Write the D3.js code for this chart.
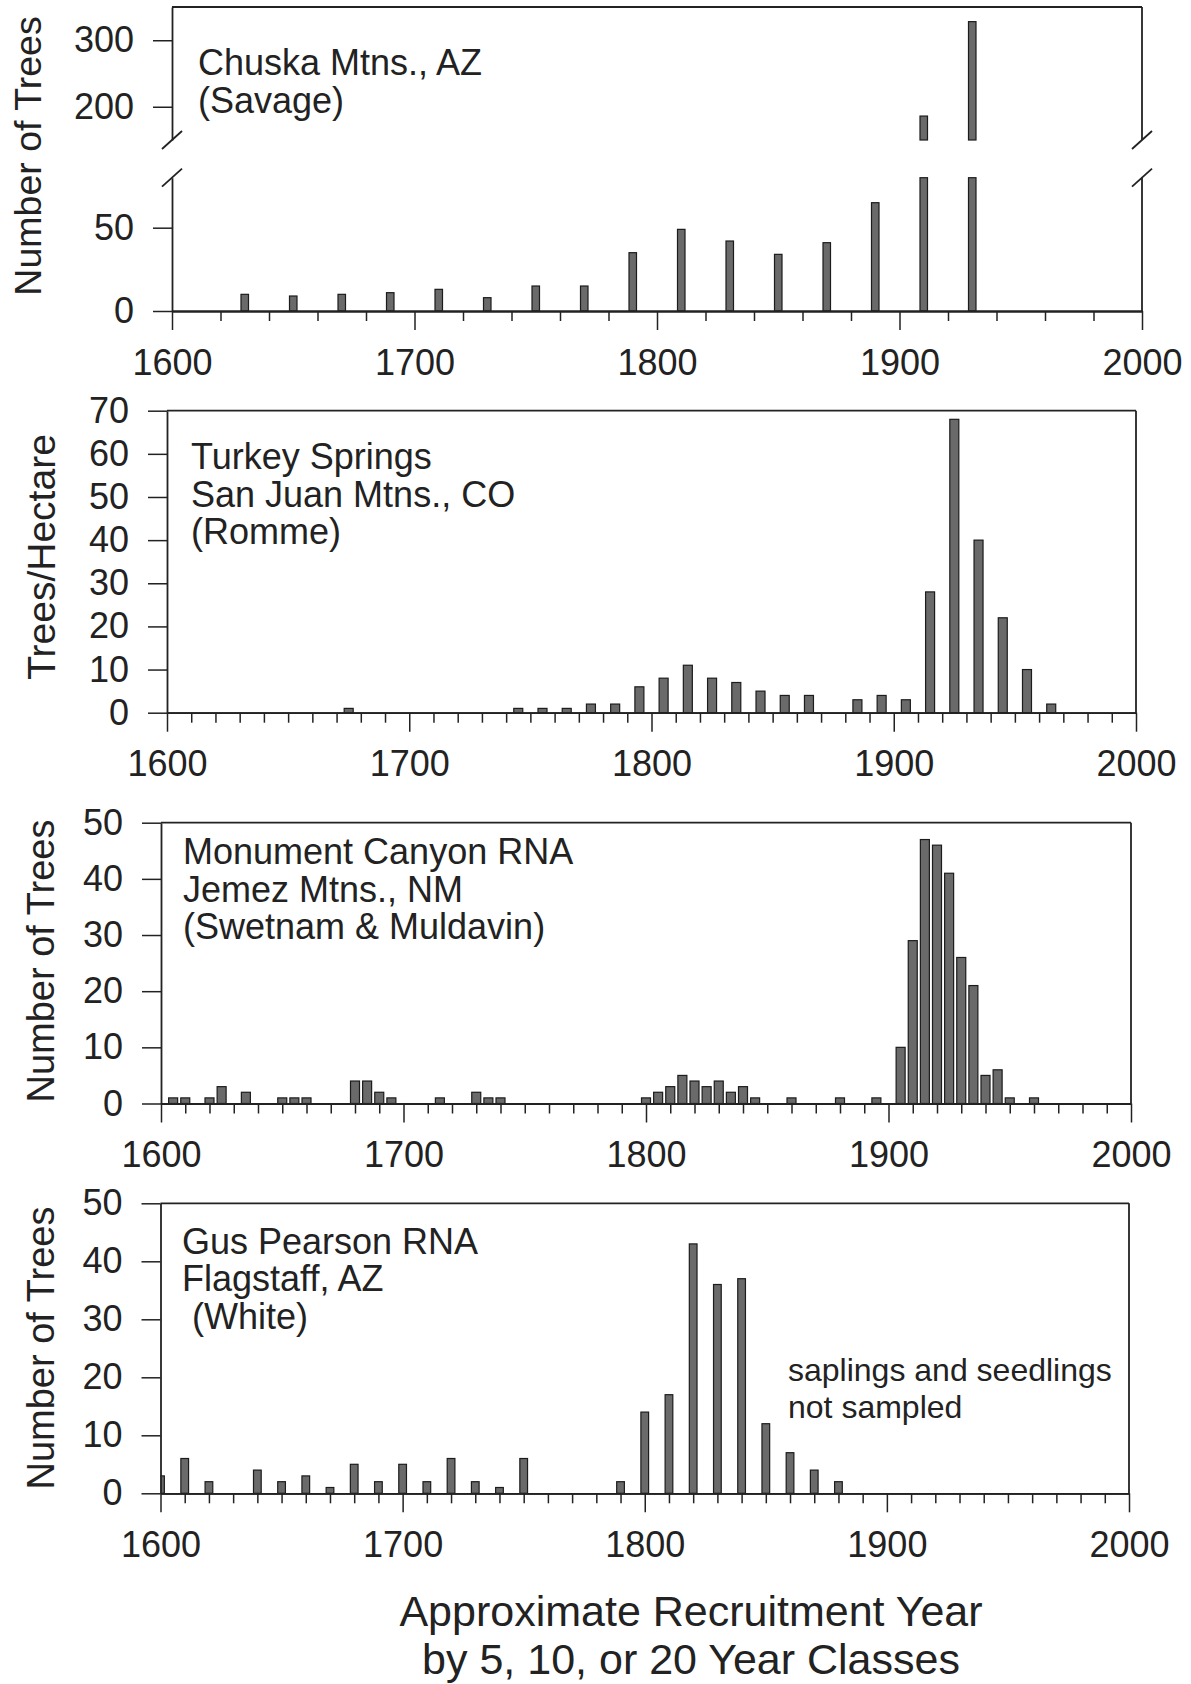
<!DOCTYPE html>
<html>
<head>
<meta charset="utf-8">
<script src="https://cdn.jsdelivr.net/npm/d3@7"></script>
<style>
  body { margin: 0; background: #fff; }
  svg text { font-family: "Liberation Sans", Arial, Helvetica, sans-serif; fill: #222; }
</style>
</head>
<body>
<div id="chart"></div>
<script>
// ---------- data ----------
const xTickLabels = [1600, 1700, 1800, 1900, 2000];

// Chuska Mtns. (20-year classes)
const chuskaYears = [1630, 1650, 1670, 1690, 1710, 1730, 1750, 1770, 1790, 1810, 1830, 1850, 1870, 1890, 1910, 1930];
const chuskaTrees = [10, 9, 10, 11, 13, 8, 15, 15, 35, 49, 42, 34, 41, 65, 186, 328];
const chuskaLowTicks = [0, 50];
const chuskaHighTicks = [200, 300];

// Turkey Springs (10-year classes)
const turkeyYears = [1675, 1745, 1755, 1765, 1775, 1785, 1795, 1805, 1815, 1825, 1835, 1845, 1855, 1865, 1885, 1895, 1905, 1915, 1925, 1935, 1945, 1955, 1965];
const turkeyDensity = [1, 1, 1, 1, 2, 2, 6, 8, 11, 8, 7, 5, 4, 4, 3, 4, 3, 28, 68, 40, 22, 10, 2];
const turkeyTicks = [0, 10, 20, 30, 40, 50, 60, 70];

// Monument Canyon (5-year classes)
const monumentYears = [1605, 1610, 1620, 1625, 1635, 1650, 1655, 1660, 1680, 1685, 1690, 1695, 1715, 1730, 1735, 1740,
  1800, 1805, 1810, 1815, 1820, 1825, 1830, 1835, 1840, 1845, 1860, 1880, 1895,
  1905, 1910, 1915, 1920, 1925, 1930, 1935, 1940, 1945, 1950, 1960];
const monumentTrees = [1, 1, 1, 3, 2, 1, 1, 1, 4, 4, 2, 1, 1, 2, 1, 1,
  1, 2, 3, 5, 4, 3, 4, 2, 3, 1, 1, 1, 1,
  10, 29, 47, 46, 41, 26, 21, 5, 6, 1, 1];
const monumentTicks = [0, 10, 20, 30, 40, 50];

// Gus Pearson (10-year classes)
const gusYears = [1600, 1610, 1620, 1640, 1650, 1660, 1670, 1680, 1690, 1700, 1710, 1720, 1730, 1740, 1750,
  1790, 1800, 1810, 1820, 1830, 1840, 1850, 1860, 1870, 1880];
const gusTrees = [3, 6, 2, 4, 2, 3, 1, 5, 2, 5, 2, 6, 2, 1, 6,
  2, 14, 17, 43, 36, 37, 12, 7, 4, 2];
const gusTicks = [0, 10, 20, 30, 40, 50];

// ---------- drawing ----------
const W = 1191, H = 1684;
const INK = "#222", BAR = "#6a6a6a", BAR_EDGE = "#1c1c1c";
const TICK = 19, MINOR = 10, FONT = 36;

const svg = d3.select("#chart").append("svg")
  .attr("width", W).attr("height", H)
  .attr("viewBox", `0 0 ${W} ${H}`);

function styleAxis(g) {
  g.attr("font-family", null).attr("font-size", null);
  g.select(".domain").attr("stroke", INK).attr("stroke-width", 1.8);
  g.selectAll(".tick line").attr("stroke", INK).attr("stroke-width", 1.5);
  g.selectAll(".tick text").attr("font-size", FONT).attr("fill", INK);
}

function xAxes(x, yZero, minorStep) {
  const minor = d3.range(1600, 2001, minorStep).filter(v => v % 100 !== 0);
  svg.append("g").attr("transform", `translate(0,${yZero})`)
    .call(d3.axisBottom(x).tickValues(minor).tickSize(MINOR).tickSizeOuter(0).tickFormat(""))
    .call(styleAxis);
  svg.append("g").attr("transform", `translate(0,${yZero})`)
    .call(d3.axisBottom(x).tickValues(xTickLabels).tickSize(TICK).tickPadding(19).tickSizeOuter(0).tickFormat(d3.format("d")))
    .call(styleAxis);
}

function yAxis(x0, y, ticks) {
  svg.append("g").attr("transform", `translate(${x0},0)`)
    .call(d3.axisLeft(y).tickValues(ticks).tickSize(TICK).tickPadding(19).tickSizeOuter(0))
    .call(styleAxis);
}

function line(x1, y1, x2, y2) {
  svg.append("line")
    .attr("x1", x1).attr("y1", y1).attr("x2", x2).attr("y2", y2)
    .attr("stroke", INK).attr("stroke-width", 1.8);
}

function notes(x, baselines, lines, size) {
  const t = svg.append("text").attr("font-size", size || FONT);
  lines.forEach((s, i) => {
    t.append("tspan").attr("x", x).attr("y", baselines[i]).text(s);
  });
}

function yTitle(x, y, label, size) {
  svg.append("text")
    .attr("transform", `translate(${x},${y}) rotate(-90)`)
    .attr("text-anchor", "middle")
    .attr("font-size", size || 38)
    .text(label);
}

function bars(parent, x, y, yZero, years, values, w) {
  parent.selectAll(null)
    .data(years.map((yr, i) => ({ yr, v: values[i] })))
    .join("rect")
    .attr("x", d => x(d.yr) - w / 2)
    .attr("y", d => y(d.v))
    .attr("width", w)
    .attr("height", d => yZero - y(d.v))
    .attr("fill", BAR)
    .attr("stroke", BAR_EDGE)
    .attr("stroke-width", 1.2);
}

// simple boxed panel (panels 2-4)
function panel(p) {
  const x = d3.scaleLinear().domain([1600, 2000]).range([p.x0, p.x1]);
  const y = d3.scaleLinear().domain([0, p.yMax]).range([p.yZero, p.yTop]);

  const clipId = "clip-" + p.id;
  svg.append("clipPath").attr("id", clipId)
    .append("rect").attr("x", p.x0).attr("y", p.yTop)
    .attr("width", p.x1 - p.x0).attr("height", p.yZero - p.yTop + 2);
  const g = svg.append("g").attr("clip-path", `url(#${clipId})`);
  bars(g, x, y, p.yZero, p.years, p.values, p.barW);

  line(p.x0, p.yTop, p.x1, p.yTop);
  line(p.x1, p.yTop, p.x1, p.yZero);
  xAxes(x, p.yZero, p.minorStep);
  yAxis(p.x0, y, p.ticks);
}

// ----- panel 1: Chuska, broken y axis -----
{
  const x0 = 172, x1 = 1142, yZero = 311;
  const x = d3.scaleLinear().domain([1600, 2000]).range([x0, x1]);
  const yLow = d3.scaleLinear().domain([0, 80]).range([yZero, 177.7]);
  const yHigh = d3.scaleLinear().domain([150, 350]).range([140, 7]);
  const w = 7.5;
  const data = chuskaYears.map((yr, i) => ({ yr, v: chuskaTrees[i] }));

  svg.append("g").selectAll(null).data(data).join("rect")
    .attr("x", d => x(d.yr) - w / 2)
    .attr("y", d => yLow(Math.min(d.v, 80)))
    .attr("width", w)
    .attr("height", d => yZero - yLow(Math.min(d.v, 80)))
    .attr("fill", BAR).attr("stroke", BAR_EDGE).attr("stroke-width", 1.2);
  svg.append("g").selectAll(null).data(data.filter(d => d.v > 150)).join("rect")
    .attr("x", d => x(d.yr) - w / 2)
    .attr("y", d => yHigh(d.v))
    .attr("width", w)
    .attr("height", d => yHigh(150) - yHigh(d.v))
    .attr("fill", BAR).attr("stroke", BAR_EDGE).attr("stroke-width", 1.2);

  line(x0, 7, x1, 7);
  line(x1, 7, x1, yHigh(150));
  line(x1, yLow(80), x1, yZero);
  xAxes(x, yZero, 20);
  yAxis(x0, yLow, chuskaLowTicks);
  yAxis(x0, yHigh, chuskaHighTicks);

  // axis break marks
  [x0, x1].forEach(bx => {
    [yHigh(150), yLow(80)].forEach(by => line(bx - 10, by + 9, bx + 10, by - 9));
  });

  notes(198, [75, 113], ["Chuska Mtns., AZ", "(Savage)"]);
  yTitle(41, 156, "Number of Trees", 37.5);
}

// ----- panel 2: Turkey Springs -----
panel({ id: "turkey", x0: 167, x1: 1136, yZero: 712.7, yTop: 410.7, yMax: 70,
  years: turkeyYears, values: turkeyDensity, ticks: turkeyTicks, minorStep: 10, barW: 9 });
notes(191, [469, 506.5, 544], ["Turkey Springs", "San Juan Mtns., CO", "(Romme)"]);
yTitle(55, 557, "Trees/Hectare", 39);

// ----- panel 3: Monument Canyon -----
panel({ id: "monument", x0: 161, x1: 1131, yZero: 1103.5, yTop: 822.7, yMax: 50,
  years: monumentYears, values: monumentTrees, ticks: monumentTicks, minorStep: 10, barW: 9 });
notes(183, [864, 901.5, 939], ["Monument Canyon RNA", "Jemez Mtns., NM", "(Swetnam & Muldavin)"]);
yTitle(54, 961, "Number of Trees");

// ----- panel 4: Gus Pearson -----
panel({ id: "gus", x0: 160.5, x1: 1129, yZero: 1493.3, yTop: 1203.3, yMax: 50,
  years: gusYears, values: gusTrees, ticks: gusTicks, minorStep: 10, barW: 7.7 });
notes(182, [1253.5, 1291], ["Gus Pearson RNA", "Flagstaff, AZ"]);
notes(192, [1329], ["(White)"]);
notes(788, [1381, 1418], ["saplings and seedlings", "not sampled"], 32);
yTitle(54, 1348, "Number of Trees");

// x-axis title
svg.append("text")
  .attr("text-anchor", "middle").attr("font-size", 43)
  .selectAll("tspan")
  .data(["Approximate Recruitment Year", "by 5, 10, or 20 Year Classes"])
  .join("tspan")
  .attr("x", 691)
  .attr("y", (d, i) => i === 0 ? 1626 : 1674)
  .text(d => d);
</script>
</body>
</html>
